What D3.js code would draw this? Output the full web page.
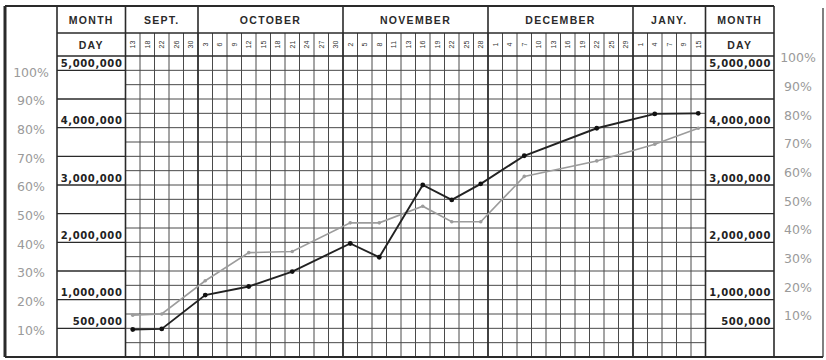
<!DOCTYPE html>
<html><head><meta charset="utf-8">
<script src="https://cdn.jsdelivr.net/npm/d3@7"></script>
<style>html,body{margin:0;padding:0;background:#fff;}svg{display:block;}</style>
</head><body>
<svg id="c" width="826" height="360"></svg>
<script>
// ---- data ----
const months = ["SEPT.", "OCTOBER", "NOVEMBER", "DECEMBER", "JANY."];
const monthDays = [
  [13, 18, 22, 26, 30],
  [3, 6, 9, 12, 15, 18, 21, 24, 27, 30],
  [2, 5, 8, 11, 13, 16, 19, 22, 25, 28],
  [1, 4, 7, 10, 13, 16, 19, 22, 25, 29],
  [1, 4, 7, 9, 15]
];
const pointDates = ["SEPT.|13","SEPT.|22","OCTOBER|3","OCTOBER|12","OCTOBER|21",
  "NOVEMBER|2","NOVEMBER|8","NOVEMBER|16","NOVEMBER|22","NOVEMBER|28",
  "DECEMBER|7","DECEMBER|22","JANY.|4","JANY.|15"];
const darkValues = [480000, 490000, 1080000, 1230000, 1490000, 1980000, 1740000,
  3000000, 2740000, 3020000, 3510000, 3990000, 4240000, 4250000];
const grayValues = [730000, 750000, 1330000, 1820000, 1840000, 2340000, 2340000,
  2630000, 2360000, 2360000, 3150000, 3420000, 3710000, 3990000];
const valueTicks = [5000000, 4000000, 3000000, 2000000, 1000000, 500000];
const percentTicks = [100, 90, 80, 70, 60, 50, 40, 30, 20, 10];

// ---- layout ----
const svg = d3.select("#c");
const X0 = 125.5, X1 = 705.5, Y0 = 56, Y1 = 357;
const TOP = 6, ROW1 = 33;
const LCOL = 57, RCOL = 774, LEFT = 5, RIGHT = 823;

const keys = [];
months.forEach((m, i) => monthDays[i].forEach(d => keys.push(m + "|" + d)));
const x = d3.scaleBand().domain(keys).range([X0, X1]).padding(0);
const y = d3.scaleLinear().domain([0, 5250000]).range([Y1, Y0]);
const pct = d3.scaleLinear().domain([0, 100]).range([Y1, y(5000000)]);

const ink = "#2a2a2a";
const g = svg.append("g");

// grid horizontal lines every 250,000
const gridRows = d3.range(250000, 5250000, 250000);
g.selectAll(".hr").data(gridRows).join("line")
  .attr("x1", X0).attr("x2", X1).attr("y1", d => y(d)).attr("y2", d => y(d))
  .attr("stroke", "#4a4a4a").attr("stroke-width", 1);
// grid vertical lines
g.selectAll(".vr").data(keys.slice(1)).join("line")
  .attr("x1", d => x(d)).attr("x2", d => x(d)).attr("y1", ROW1).attr("y2", Y1)
  .attr("stroke", "#4a4a4a").attr("stroke-width", 1);
// month boundaries
const monthStarts = months.map((m, i) => x(m + "|" + monthDays[i][0]));
g.selectAll(".mb").data(monthStarts.slice(1)).join("line")
  .attr("x1", d => d).attr("x2", d => d).attr("y1", TOP).attr("y2", Y1)
  .attr("stroke", ink).attr("stroke-width", 1.6);

// label-column lines every 500,000
const labLines = d3.range(500000, 5000001, 500000);
[[LCOL, X0], [X1, RCOL]].forEach(([a, b]) => {
  g.selectAll(null).data(labLines).join("line")
    .attr("x1", a).attr("x2", b).attr("y1", d => y(d)).attr("y2", d => y(d))
    .attr("stroke", ink).attr("stroke-width", 1.3);
});

// frame lines
const frame = [
  [LEFT, TOP, RCOL, TOP, 2], [LEFT, Y1, RIGHT, Y1, 2],
  [LEFT, TOP, LEFT, Y1, 3], [LCOL, TOP, LCOL, Y1, 1.6],
  [X0, TOP, X0, Y1, 1.6], [X1, TOP, X1, Y1, 1.6], [RCOL, TOP, RCOL, Y1, 1.6],
  [RIGHT, 8, RIGHT, Y1, 1.2],
  [LCOL, ROW1, RCOL, ROW1, 1.4], [LCOL, Y0, RCOL, Y0, 1.4]
];
g.selectAll(".fr").data(frame).join("line")
  .attr("x1", d => d[0]).attr("y1", d => d[1]).attr("x2", d => d[2]).attr("y2", d => d[3])
  .attr("stroke", ink).attr("stroke-width", d => d[4]);

// header text
const hfont = "'Liberation Sans', Arial, sans-serif";
const monthCenters = months.map((m, i) => {
  const a = x(m + "|" + monthDays[i][0]);
  const b = x(m + "|" + monthDays[i][monthDays[i].length - 1]) + x.bandwidth();
  return (a + b) / 2;
});
const hdr = months.map((m, i) => ({t: m, x: monthCenters[i]}))
  .concat([{t: "MONTH", x: (LCOL + X0) / 2}, {t: "MONTH", x: (X1 + RCOL) / 2}]);
g.selectAll(".mt").data(hdr).join("text")
  .attr("x", d => d.x).attr("y", 23.5).attr("text-anchor", "middle")
  .attr("font-family", hfont).attr("font-weight", "bold").attr("font-size", 10.5)
  .attr("letter-spacing", 1.3).attr("fill", ink).text(d => d.t);
g.selectAll(".dt").data([(LCOL + X0) / 2, (X1 + RCOL) / 2]).join("text")
  .attr("x", d => d).attr("y", 49).attr("text-anchor", "middle")
  .attr("font-family", hfont).attr("font-weight", "bold").attr("font-size", 10.5)
  .attr("letter-spacing", 1.3).attr("fill", ink).text("DAY");
// day labels rotated
g.selectAll(".dl").data(keys).join("text")
  .attr("transform", d => `translate(${x(d) + x.bandwidth() / 2 + 2.5},44.5) rotate(-90)`)
  .attr("text-anchor", "middle").attr("font-family", hfont).attr("font-size", 7)
  .attr("fill", "#333").text(d => d.split("|")[1]);

// value labels
const fmt = d3.format(",");
[[X0 - 3, "end"], [RCOL - 3, "end"]].forEach(([xx, anc]) => {
  g.selectAll(null).data(valueTicks).join("text")
    .attr("x", xx).attr("y", d => y(d) - 3.5).attr("text-anchor", anc)
    .attr("font-family", "'DejaVu Sans', sans-serif").attr("font-weight", "bold")
    .attr("font-size", 10).attr("letter-spacing", 0.6).attr("fill", "#222")
    .text(d => fmt(d));
});

// percent labels
g.selectAll(".pl").data(percentTicks).join("text")
  .attr("x", 31).attr("y", d => pct(d) + 2).attr("dy", "0.35em").attr("text-anchor", "middle")
  .attr("font-family", "'DejaVu Sans', sans-serif").attr("font-size", 12.5)
  .attr("fill", "#9a9a9a").text(d => d + "%");
g.selectAll(".pr").data(percentTicks).join("text")
  .attr("x", 798).attr("y", d => pct(d) - 12.5).attr("dy", "0.35em").attr("text-anchor", "middle")
  .attr("font-family", "'DejaVu Sans', sans-serif").attr("font-size", 12.5)
  .attr("fill", "#9a9a9a").text(d => d + "%");

// series
const cx = k => x(k) + x.bandwidth() / 2;
const line = d3.line().x(d => cx(d[0])).y(d => y(d[1]));
const grayPts = pointDates.map((k, i) => [k, grayValues[i]]);
const darkPts = pointDates.map((k, i) => [k, darkValues[i]]);
g.append("path").datum(grayPts).attr("d", line).attr("fill", "none")
  .attr("stroke", "#9c9c9c").attr("stroke-width", 1.6);
g.selectAll(".gp").data(grayPts).join("circle")
  .attr("cx", d => cx(d[0])).attr("cy", d => y(d[1])).attr("r", 1.8).attr("fill", "#9c9c9c");
g.append("path").datum(darkPts).attr("d", line).attr("fill", "none")
  .attr("stroke", "#222").attr("stroke-width", 1.9);
g.selectAll(".dp").data(darkPts).join("circle")
  .attr("cx", d => cx(d[0])).attr("cy", d => y(d[1])).attr("r", 2.4).attr("fill", "#111");
</script>
</body></html>
